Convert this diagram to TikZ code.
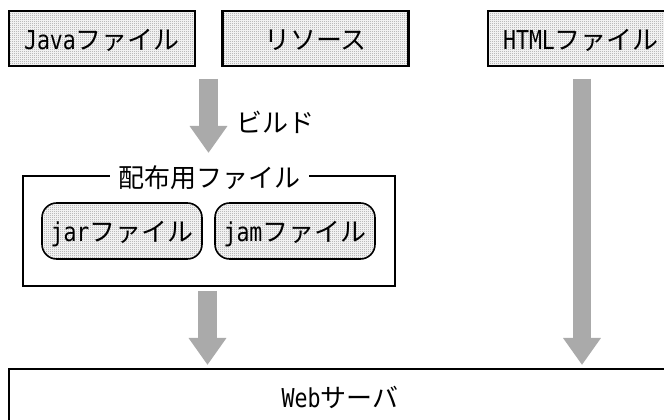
\documentclass[tikz,border=0pt]{standalone}
\usepackage{fontspec}
\setmainfont{Noto Sans CJK JP}
\newfontfamily\lat[FakeStretch=0.83]{DejaVu Sans Mono}
\usetikzlibrary{patterns,arrows.meta}
\definecolor{arrowgray}{RGB}{170,170,170}
\definecolor{dotgray}{RGB}{150,150,150}
\pgfdeclarepatternformonly{chk}{\pgfqpoint{0pt}{0pt}}{\pgfqpoint{1.5pt}{1.5pt}}{\pgfqpoint{1.5pt}{1.5pt}}{%
  \pgfpathrectangle{\pgfqpoint{0pt}{0pt}}{\pgfqpoint{0.75pt}{0.75pt}}%
  \pgfpathrectangle{\pgfqpoint{0.75pt}{0.75pt}}{\pgfqpoint{0.75pt}{0.75pt}}%
  \pgfusepath{fill}}
\tikzset{x=0.75pt,y=-0.75pt,
  txt/.style={inner sep=0pt,font=\fontsize{19.5}{19.5}\selectfont,text height=16pt,text depth=0pt},
  filebox/.style={txt,draw=black,line width=1.7pt,pattern=chk,pattern color=dotgray,minimum width=139.5pt,minimum height=41.25pt},
  roundbox/.style={txt,draw=black,line width=1.2pt,pattern=chk,pattern color=dotgray,rounded corners=11pt,minimum width=120pt,minimum height=42pt},
  plainbox/.style={draw=black,line width=1.7pt,inner sep=0pt},
  bigarrow/.style={draw=arrowgray,line width=14pt,-{Triangle[length=20.25pt,width=27pt]}}}
\begin{document}
\begin{tikzpicture}
\useasboundingbox (0,0) rectangle (664,420);
\fill[white] (0,0) rectangle (664,420);
\node[filebox] (java) at (102,38.5) {{\lat Java}ファイル};
\node[filebox] (res) at (315.5,38.5) {リソース};
\node[filebox] (html) at (581,38.5) {{\lat HTML}ファイル};
\node[plainbox,minimum width=279pt,minimum height=82.5pt] (dist) at (209,231) {};
\node[txt,fill=white,minimum width=149pt] (distl) at (209.5,177) {配布用ファイル};
\node[roundbox] (jar) at (122,231) {{\lat jar}ファイル};
\node[roundbox] (jam) at (295,231) {{\lat jam}ファイル};
\node[plainbox,txt,minimum width=496.5pt,minimum height=42pt] (web) at (340,397) {{\lat Web}サーバ};
\node[txt] (build) at (275.5,122) {ビルド};
\coordinate (a1) at (208.5,79);
\coordinate (a2) at (208.5,153);
\coordinate (a3) at (207.5,291);
\coordinate (a4) at (207.5,365);
\coordinate (a5) at (582,79);
\coordinate (a6) at (582,365);
\draw[bigarrow] (a1) -- (a2);
\draw[bigarrow] (a3) -- (a4);
\draw[bigarrow] (a5) -- (a6);
\end{tikzpicture}
\end{document}
